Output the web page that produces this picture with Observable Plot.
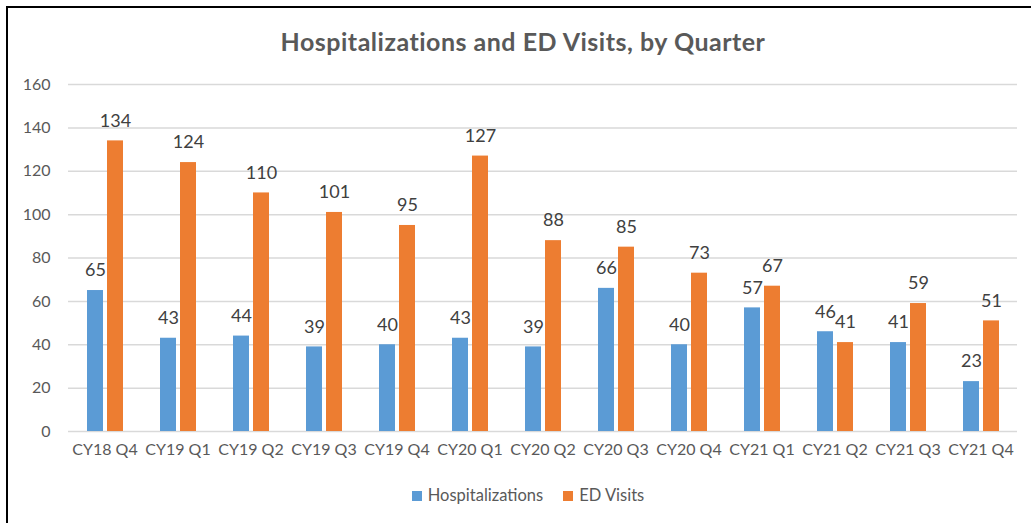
<!DOCTYPE html>
<html>
<head>
<meta charset="utf-8">
<script src="https://cdn.jsdelivr.net/npm/d3@7"></script>
<script src="https://cdn.jsdelivr.net/npm/@observablehq/plot@0.6"></script>
<style>
  html, body { margin: 0; padding: 0; background: #fff; overflow: hidden; width: 1031px; height: 523px; }
  #frame { position: absolute; left: 6px; top: 6px; width: 1100px; height: 600px; border-left: 2px solid #000; border-top: 2px solid #000; }
  #title { position: absolute; left: 0; top: 26px; width: 1046px; text-align: center; font-family: Lato, sans-serif; font-weight: bold; font-size: 25px; letter-spacing: 0.5px; color: #595959; }
  #chart { position: absolute; left: 0; top: 0; }
  #legend { position: absolute; left: 0; top: 485px; width: 1056px; text-align: center; font-family: Lato, sans-serif; font-size: 16.5px; color: #595959; }
  .item { display: inline-block; margin: 0 10px; }
  .sw { display: inline-block; width: 10px; height: 10px; margin-right: 6px; vertical-align: 0px; }
</style>
</head>
<body>
<div id="frame"></div>
<div id="title">Hospitalizations and ED Visits, by Quarter</div>
<div id="chart"></div>
<div id="legend"></div>
<script>
const quarters = ["CY18 Q4","CY19 Q1","CY19 Q2","CY19 Q3","CY19 Q4","CY20 Q1","CY20 Q2","CY20 Q3","CY20 Q4","CY21 Q1","CY21 Q2","CY21 Q3","CY21 Q4"];
const hospitalizations = [65,43,44,39,40,43,39,66,40,57,46,41,23];
const edVisits = [134,124,110,101,95,127,88,85,73,67,41,59,51];
const seriesNames = ["Hospitalizations","ED Visits"];
const seriesColors = ["#5B9BD5","#ED7D31"];
const yTicks = [0,20,40,60,80,100,120,140,160];

const data = [];
quarters.forEach((q, i) => {
  data.push({q, s: seriesNames[0], v: hospitalizations[i]});
  data.push({q, s: seriesNames[1], v: edVisits[i]});
});

const chart = Plot.plot({
  width: 1031,
  height: 475,
  marginTop: 84,
  marginBottom: 44,
  marginLeft: 66,
  marginRight: 12,
  style: {fontFamily: "Lato, sans-serif", fontSize: "16px", color: "#595959", background: "transparent"},
  fx: {domain: quarters, padding: 0, axis: "bottom", label: null, tickSize: 0, tickPadding: 12},
  x: {domain: seriesNames, axis: null, paddingInner: 0.2, paddingOuter: 0.885},
  y: {domain: [0, 160], ticks: yTicks, label: null, tickSize: 0, tickPadding: 18, grid: false},
  color: {domain: seriesNames, range: seriesColors},
  marks: [
    Plot.gridY(yTicks, {stroke: "#D9D9D9", strokeOpacity: 1, strokeWidth: 1.5}),
    Plot.barY(data, {fx: "q", x: "s", y: "v", fill: "s"}),
    Plot.text(data, {fx: "q", x: "s", y: "v", text: d => String(d.v), dy: -20, lineAnchor: "middle", fill: "#404040", fontSize: 18})
  ]
});
document.getElementById("chart").appendChild(chart);

const legend = document.getElementById("legend");
seriesNames.forEach((name, i) => {
  const item = document.createElement("span");
  item.className = "item";
  const sw = document.createElement("span");
  sw.className = "sw";
  sw.style.background = seriesColors[i];
  item.appendChild(sw);
  item.appendChild(document.createTextNode(name));
  legend.appendChild(item);
});
</script>
</body>
</html>
